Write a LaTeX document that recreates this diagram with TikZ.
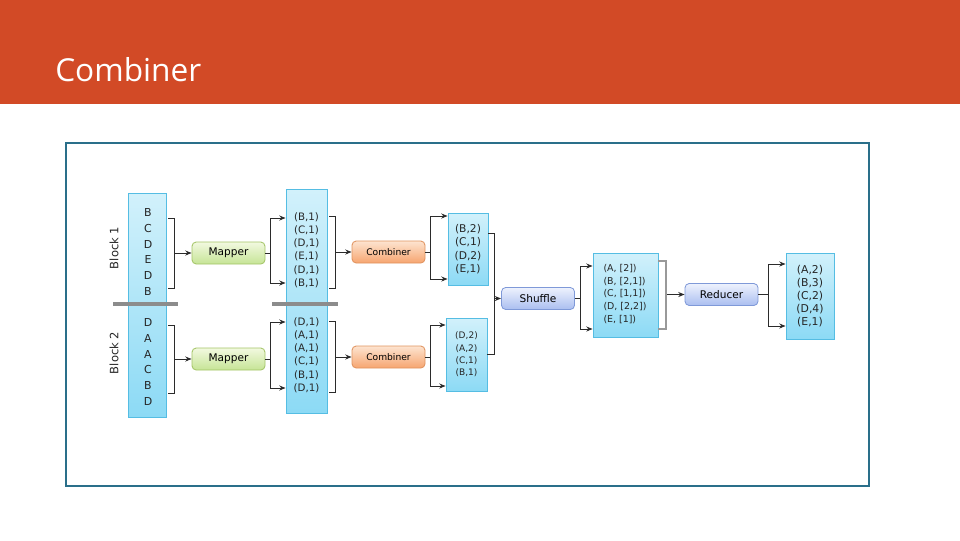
\documentclass[tikz,border=0pt]{standalone}
\usepackage{fontspec}
\setmainfont{DejaVu Sans}
\newfontfamily\titlefont{Open Sans}
\usetikzlibrary{arrows.meta, positioning, calc}

\definecolor{header}{HTML}{D24A26}
\definecolor{framec}{HTML}{2A6F8A}
\definecolor{coltop}{HTML}{D2F1FB}
\definecolor{colbot}{HTML}{8CDAF5}
\definecolor{coledge}{HTML}{55BDE3}
\definecolor{maptop}{HTML}{F2F9E0}
\definecolor{mapbot}{HTML}{C6E496}
\definecolor{mapedge}{HTML}{A3C466}
\definecolor{combtop}{HTML}{FDE4D0}
\definecolor{combbot}{HTML}{F6A570}
\definecolor{combedge}{HTML}{E0925E}
\definecolor{shuftop}{HTML}{EEF2FD}
\definecolor{shufbot}{HTML}{AABEF0}
\definecolor{shufedge}{HTML}{7F99D8}
\definecolor{conn}{HTML}{2B2B2B}

\def\u{0.025cm}

\begin{document}
\begin{tikzpicture}[
    x=0.025cm, y=-0.025cm, >={Stealth[length=4.5pt,width=3.6pt]},
    column/.style={draw=coledge, line width=0.6pt, top color=coltop,
                   bottom color=colbot, inner sep=0pt},
    stage/.style={rounded corners=3pt, line width=0.6pt, inner sep=0pt,
                  minimum width=73*\u, minimum height=22*\u,
                  font=\fontsize{7.5}{9}\selectfont},
    mapbox/.style={stage, draw=mapedge, top color=maptop, bottom color=mapbot},
    combbox/.style={stage, draw=combedge, top color=combtop, bottom color=combbot,
                    font=\fontsize{6.5}{8}\selectfont},
    shufbox/.style={stage, draw=shufedge, top color=shuftop, bottom color=shufbot},
    entries/.style={align=center, inner sep=0pt, text=black!85},
    wire/.style={draw=conn, line width=0.65pt},
    sep/.style={draw=gray!90, line width=2.4pt}
  ]
  \useasboundingbox (0,0) rectangle (960,540);

  % Header
  \fill[header] (0,0) rectangle (960,104);
  \node[anchor=west, text=white, inner sep=0pt,
        font=\titlefont\fontsize{22.5}{26}\selectfont] (title) at (55,70) {Combiner};

  % Frame
  \draw[framec, line width=0.8pt] (66,143) rectangle (869,486);

  % Input
  \node[column, minimum width=38*\u, minimum height=224*\u] (incol) at (147.5,305) {};
  \node[entries, font=\fontsize{7.8}{11.2}\selectfont] (in1) at (148,252)
    {B\\C\\D\\E\\D\\B};
  \node[entries, font=\fontsize{7.8}{11.2}\selectfont] (in2) at (148,362)
    {D\\A\\A\\C\\B\\D};
  \node[rotate=90, text=black!85, font=\fontsize{8.2}{10}\selectfont] (blk1) at (114,248) {Block 1};
  \node[rotate=90, text=black!85, font=\fontsize{8.2}{10}\selectfont] (blk2) at (114,353) {Block 2};

  % Mappers
  \node[mapbox] (map1) at (228.5,253) {Mapper};
  \node[mapbox] (map2) at (228.5,359) {Mapper};

  % Mapper output
  \node[column, minimum width=41*\u, minimum height=224*\u] (mcol) at (306.5,301) {};
  \node[entries, font=\fontsize{7.3}{9.4}\selectfont] (mo1) at (306.5,250)
    {(B,1)\\(C,1)\\(D,1)\\(E,1)\\(D,1)\\(B,1)};
  \node[entries, font=\fontsize{7.3}{9.4}\selectfont] (mo2) at (306.5,355)
    {(D,1)\\(A,1)\\(A,1)\\(C,1)\\(B,1)\\(D,1)};

  % Block separators
  \draw[sep] (113,304) -- (178,304);
  \draw[sep] (272,304) -- (338,304);

  % Combiners
  \node[combbox] (comb1) at (388.5,252) {Combiner};
  \node[combbox] (comb2) at (388.5,357) {Combiner};

  % Combiner output
  \node[column, minimum width=40*\u, minimum height=72*\u] (co1) at (468,249) {};
  \node[entries, font=\fontsize{7.6}{9.6}\selectfont] at (co1) {(B,2)\\(C,1)\\(D,2)\\(E,1)};
  \node[column, minimum width=41*\u, minimum height=73*\u] (co2) at (466.5,354.5) {};
  \node[entries, font=\fontsize{6.4}{8.7}\selectfont] at (co2) {(D,2)\\(A,2)\\(C,1)\\(B,1)};

  % Shuffle and reduce
  \node[shufbox] (shuf) at (538,298.5) {Shuffle};
  \node[column, minimum width=65*\u, minimum height=84*\u] (sco) at (625.5,295) {};
  \node[entries, align=left, font=\fontsize{6.7}{9.2}\selectfont] at (625,294)
    {(A, [2])\\(B, [2,1])\\(C, [1,1])\\(D, [2,2])\\(E, [1])};
  \node[shufbox] (red) at (721.5,294.5) {Reducer};
  \node[column, minimum width=48*\u, minimum height=86*\u] (rco) at (810,296) {};
  \node[entries, font=\fontsize{7.7}{9.2}\selectfont] at (rco) {(A,2)\\(B,3)\\(C,2)\\(D,4)\\(E,1)};

  % Brackets into mappers
  \draw[wire] (168,218) -| (174,288) -- (168,288);
  \draw[wire, ->] (174,253) -- (map1.west);
  \draw[wire] (168,325) -| (174,393) -- (168,393);
  \draw[wire, ->] (174,359) -- (map2.west);

  % Mappers to their output
  \draw[wire] (map1.east) -- (270,253);
  \draw[wire, ->] (270,253) |- (mcol.west |- 0,218);
  \draw[wire, ->] (270,253) |- (mcol.west |- 0,283);
  \draw[wire] (map2.east) -- (270,359);
  \draw[wire, ->] (270,359) |- (mcol.west |- 0,322);
  \draw[wire, ->] (270,359) |- (mcol.west |- 0,388);

  % Brackets into combiners
  \draw[wire] (329,216) -| (335,288) -- (329,288);
  \draw[wire, ->] (335,252) -- (comb1.west);
  \draw[wire] (329,321) -| (335,392) -- (329,392);
  \draw[wire, ->] (335,357) -- (comb2.west);

  % Combiners to their output
  \draw[wire] (comb1.east) -- (430,252);
  \draw[wire, ->] (430,252) |- (co1.west |- 0,216);
  \draw[wire, ->] (430,252) |- (co1.west |- 0,279);
  \draw[wire] (comb2.east) -- (430,357);
  \draw[wire, ->] (430,357) |- (co2.west |- 0,325);
  \draw[wire, ->] (430,357) |- (co2.west |- 0,386);

  % Combiner output to shuffle
  \draw[wire] (co1.east |- 0,233) -| (494,354) -- (co2.east |- 0,354);
  \draw[wire, ->] (494,298.5) -- (shuf.west);

  % Shuffle to its output
  \draw[wire] (shuf.east) -- (580,298.5);
  \draw[wire, ->] (580,298.5) |- (sco.west |- 0,266);
  \draw[wire, ->] (580,298.5) |- (sco.west |- 0,329);

  % Shuffle output to reducer
  \draw[draw=gray!80, line width=1.6pt] (sco.east |- 0,261) -| (666,329) -- (sco.east |- 0,329);
  \draw[wire, ->] (667,294.5) -- (red.west);

  % Reducer to its output
  \draw[wire] (red.east) -- (768,294.5);
  \draw[wire, ->] (768,294.5) |- (rco.west |- 0,264);
  \draw[wire, ->] (768,294.5) |- (rco.west |- 0,326);
\end{tikzpicture}
\end{document}
